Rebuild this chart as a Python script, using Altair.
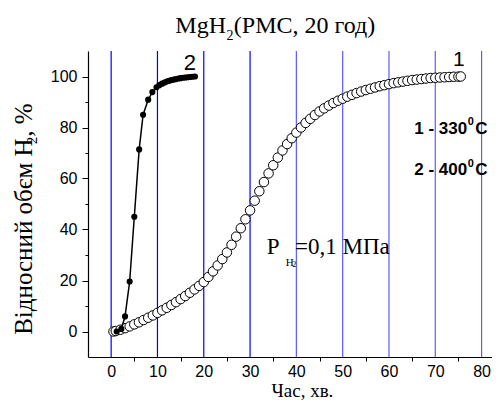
import altair as alt
import pandas as pd

# ---- data ----
# curve 1 (330 C), open circles
t1 = [0.5, 1, 2, 3, 4, 5, 6, 7, 8, 9, 10, 11, 12, 13, 14, 15, 16, 17, 18, 19,
      20, 21, 22, 23, 24, 25, 26, 27, 28, 29, 30, 31, 32, 33, 34, 35, 36, 37, 38, 39,
      40, 41, 42, 43, 44, 45, 46, 47, 48, 49, 50, 51, 52, 53, 54, 55, 56, 57, 58, 59,
      60, 61, 62, 63, 64, 65, 66, 67, 68, 69, 70, 71, 72, 73, 74, 75, 75.5]
v1 = [0.0, 0.2, 0.7, 1.3, 2.0, 2.8, 3.6, 4.5, 5.4, 6.3, 7.3, 8.3, 9.3, 10.4, 11.5, 12.7, 13.9, 15.2, 16.5, 17.9,
      19.4, 21.4, 23.6, 25.9, 28.4, 31.0, 34.0, 37.2, 40.5, 44.0, 47.5, 51.3, 55.0, 58.6, 62.0, 65.2, 68.2, 71.0, 73.5, 75.8,
      78.0, 80.0, 81.8, 83.4, 84.9, 86.3, 87.5, 88.6, 89.6, 90.5, 91.3, 92.1, 92.8, 93.5, 94.1, 94.7, 95.2, 95.7, 96.2, 96.6,
      97.0, 97.4, 97.7, 98.0, 98.3, 98.6, 98.8, 99.0, 99.2, 99.4, 99.5, 99.6, 99.7, 99.8, 99.9, 99.95, 100.0]

# curve 2 (400 C), filled dots with line
t2 = [1.2, 2.2, 3.0, 4.0, 5.0, 6.05, 6.9, 8.0, 8.9, 9.8, 10.4, 11.0, 11.5, 12.0, 12.5,
      13.0, 13.5, 14.0, 14.5, 15.0, 15.5, 16.0, 16.5, 17.0, 17.5, 18.1]
v2 = [0.0, 1.0, 5.9, 19.6, 45.0, 71.4, 85.0, 90.9, 93.9, 95.8, 96.6, 97.2, 97.6, 98.0, 98.3,
      98.6, 98.8, 99.0, 99.2, 99.35, 99.5, 99.6, 99.7, 99.8, 99.9, 100.0]

grid_x = [0, 10, 20, 30, 40, 50, 60, 70, 80]
grid_group = ["a", "a", "a", "a", "b", "b", "b", "b", "b"]
x_ticks = [0, 5, 10, 15, 20, 25, 30, 35, 40, 45, 50, 55, 60, 65, 70, 75, 80]
y_ticks = [0, 10, 20, 30, 40, 50, 60, 70, 80, 90, 100]

SANS = "Liberation Sans"
SERIF = "Liberation Serif"

xs = alt.Scale(domain=[-5, 82.25], nice=False, zero=False)
ys = alt.Scale(domain=[-10, 110], nice=False, zero=False)

xa = alt.Axis(
    values=x_ticks,
    labelExpr="datum.value % 10 == 0 ? datum.label : ''",
    grid=False,
    tickSize=4,
    tickColor="black",
    tickOpacity={"condition": {"test": "datum.value % 10 == 0", "value": 0}, "value": 1},
    labelPadding=2,
    labelFont=SANS, labelFontSize=16, labelColor="black",
    domainColor="black", domainWidth=1.2,
    title=None,
)
ya = alt.Axis(
    values=y_ticks,
    labelExpr="datum.value % 20 == 0 ? datum.label : ''",
    grid=False,
    tickSize={"condition": {"test": "datum.value % 20 != 0", "value": 3}, "value": 6},
    tickColor="black",
    labelPadding=5,
    labelFont=SANS, labelFontSize=16, labelColor="black",
    domainColor="black", domainWidth=1.2,
    title=None,
)


def X(f="t"):
    return alt.X(f"{f}:Q", scale=xs, axis=xa)


def Y(f="v"):
    return alt.Y(f"{f}:Q", scale=ys, axis=ya)


grid_df = pd.DataFrame({"t": grid_x, "g": grid_group})
d1 = pd.DataFrame({"t": t1, "v": v1})
d2 = pd.DataFrame({"t": t2, "v": v2})

grid = alt.Chart(grid_df).mark_rule(strokeWidth=1.2).encode(
    x=X(),
    color=alt.Color("g:N", scale=alt.Scale(domain=["a", "b"], range=["#0000ff", "#5c5cff"]), legend=None),
)

circles = alt.Chart(d1).mark_point(
    shape="circle", filled=True, fill="white", stroke="black", strokeWidth=1, size=90, opacity=1
).encode(x=X(), y=Y())

line2 = alt.Chart(d2).mark_line(color="black", strokeWidth=1.5).encode(x=X(), y=Y())
dots2 = alt.Chart(d2).mark_point(
    shape="circle", filled=True, color="black", size=38, opacity=1
).encode(x=X(), y=Y())


def txt(t, v, s, font=SANS, size=16, weight="normal", align="left", angle=0):
    df = pd.DataFrame({"t": [t], "v": [v], "s": [s]})
    return alt.Chart(df).mark_text(
        font=font, fontSize=size, fontWeight=weight, align=align, baseline="alphabetic",
        color="black", angle=angle
    ).encode(x=X(), y=Y(), text="s:N")


texts = [
    # chart title
    txt(24.8, 117.0, "MgH", SERIF, 24, align="right"),
    txt(24.9, 114.3, "2", SERIF, 14),
    txt(26.5, 117.0, "(РМС, 20 год)", SERIF, 24),
    # y axis title
    txt(-17.13, -1.3, "Відносний обєм H", SERIF, 25, angle=270),
    txt(-16.0, 73.4, "2", SERIF, 15, angle=270),
    txt(-17.13, 76.4, ", %", SERIF, 25, angle=270),
    # x axis title
    txt(41.3, -25.5, "Час, хв.", SERIF, 19, align="center"),
    # curve labels
    txt(17.0, 102.4, "2", SANS, 22, align="center"),
    txt(75.1, 104.0, "1", SANS, 21, align="center"),
    # temperature legend
    txt(76.9, 77.6, "1 - 330", SANS, 17, "bold", "right"),
    txt(77.0, 81.0, "0", SANS, 11, "bold"),
    txt(81.3, 77.6, "C", SANS, 17, "bold", "right"),
    txt(76.9, 61.3, "2 - 400", SANS, 17, "bold", "right"),
    txt(77.0, 64.7, "0", SANS, 11, "bold"),
    txt(81.3, 61.3, "C", SANS, 17, "bold", "right"),
    # pressure
    txt(33.6, 30.4, "P", SERIF, 23),
    txt(37.7, 25.6, "H", SERIF, 11),
    txt(39.1, 25.4, "2", SERIF, 8),
    txt(39.7, 30.4, "=0,1 МПа", SERIF, 23),
]

chart = alt.layer(grid, circles, line2, dots2, *texts).properties(
    width=404, height=306,
    autosize=alt.AutoSizeParams(type="none"),
    padding={"left": 80, "top": 43, "right": 0, "bottom": 44},
    background="white",
).configure_view(stroke=None)

chart.save("out.html", embed_options={"renderer": "svg", "actions": False})
